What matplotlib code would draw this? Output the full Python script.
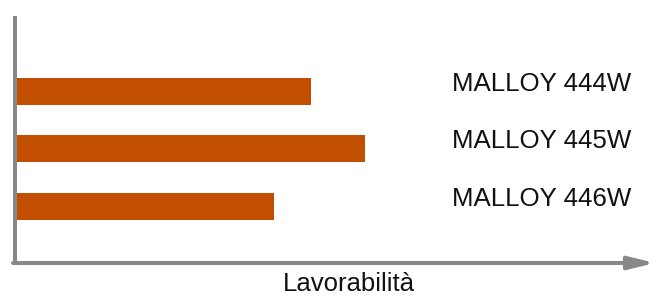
import matplotlib
matplotlib.use('Agg')
import matplotlib.pyplot as plt

# data (no scale shown, arbitrary units)
products = ['MALLOY 444W', 'MALLOY 445W', 'MALLOY 446W']
lavorabilita = [5.92, 7.0, 5.18]
xlabel = 'Lavorabilità'

plt.rcParams['font.family'] = ['Liberation Sans', 'DejaVu Sans']

W, H = 661, 296
fig = plt.figure(figsize=(W / 100, H / 100), dpi=100)
ax = fig.add_axes([15 / W, (H - 263) / H, 640 / W, 245 / H])

pos = list(range(len(products)))
ax.barh(pos, lavorabilita, height=0.47, color='#C24E00', align='center')

# labels to the right of the bars
for p, name in zip(pos, products):
    ax.text(8.74, p - 0.01, name, fontsize=18.6, va='baseline', ha='left', color='#111111')

ax.set_xlim(0, 12.8)
ax.set_ylim(2.983, -1.278)

# axes: grey left line, grey arrow at bottom
grey = '#888888'
for s in ['top', 'right', 'bottom']:
    ax.spines[s].set_visible(False)
ax.spines['left'].set_color(grey)
ax.spines['left'].set_linewidth(2.9)
ax.set_xticks([])
ax.set_yticks([])
ax.annotate('', xy=(1.0, 0.0), xytext=(-0.003, 0.0), xycoords='axes fraction',
            textcoords='axes fraction', annotation_clip=False,
            arrowprops=dict(arrowstyle='-|>,head_length=1.3,head_width=0.32',
                            lw=2.9, color=grey, mutation_scale=12,
                            shrinkA=0, shrinkB=0))

fig.text(349 / W, 5 / H, xlabel, fontsize=18.5, ha='center', va='baseline', color='#111111')

fig.savefig('out.png', dpi=100)
